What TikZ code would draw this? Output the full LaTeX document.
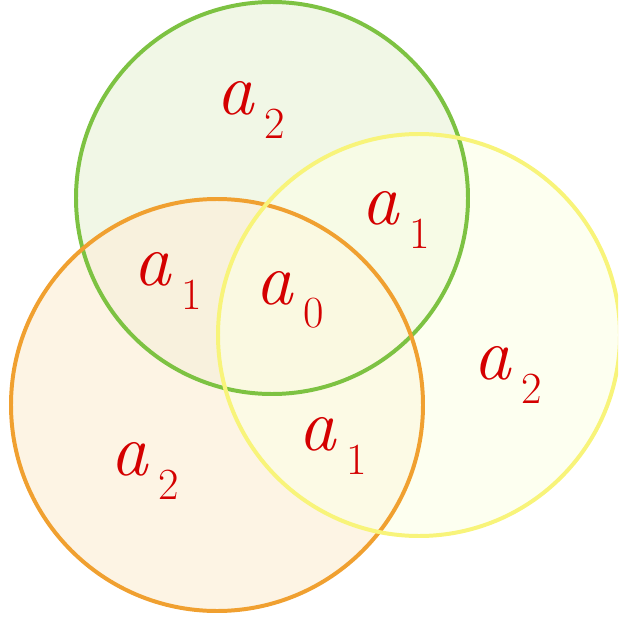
\documentclass[tikz,border=0pt]{standalone}
\usepackage{fontspec}
\definecolor{gstroke}{HTML}{7DC242}
\definecolor{gfill}{HTML}{EEF6E2}
\definecolor{ostroke}{HTML}{F0A030}
\definecolor{ofill}{HTML}{FCEFD9}
\definecolor{ystroke}{HTML}{F8F47A}
\definecolor{yfill}{HTML}{FCFFE6}
\definecolor{lab}{HTML}{D40000}
\newcommand{\lbl}[2]{{\fontsize{64}{66}\selectfont\itshape #1}\hspace{9pt}\raisebox{-20pt}{\fontsize{38}{40}\selectfont #2}}
\begin{document}
\begin{tikzpicture}[x=0.03cm,y=-0.03cm,
  ring/.style={line width=3.4pt},
  lbl/.style={text=lab,inner sep=0pt}]
\useasboundingbox (0,0) rectangle (618,621);
\begin{scope}
\clip (0,0) rectangle (618,621);
\fill[gfill,opacity=0.85] (272,198) circle[radius=196];
\fill[ofill,opacity=0.7] (217,405) circle[radius=206];
\fill[yfill,opacity=0.6] (419,335) circle[radius=201];
\node[draw=gstroke,ring,circle,minimum size=392*0.03cm,inner sep=0pt] (G) at (272,198) {};
\node[draw=ostroke,ring,circle,minimum size=412*0.03cm,inner sep=0pt] (O) at (217,405) {};
\node[draw=ystroke,ring,circle,minimum size=402*0.03cm,inner sep=0pt] (Y) at (419,335) {};
\end{scope}
\node[lbl] (t1) at (251,110) {\lbl{a}{2}};
\node[lbl] (t2) at (396,220) {\lbl{a}{1}};
\node[lbl] (t3) at (168,281) {\lbl{a}{1}};
\node[lbl] (t4) at (290,300) {\lbl{a}{0}};
\node[lbl] (t5) at (508,375) {\lbl{a}{2}};
\node[lbl] (t6) at (145,471) {\lbl{a}{2}};
\node[lbl] (t7) at (333,446) {\lbl{a}{1}};
\end{tikzpicture}
\end{document}
